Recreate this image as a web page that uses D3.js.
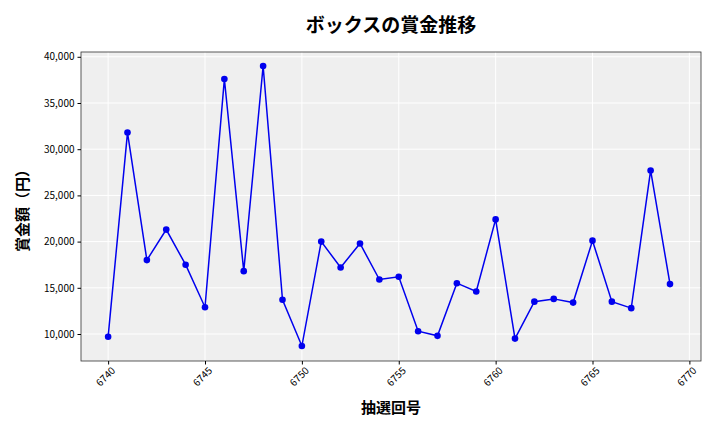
<!DOCTYPE html>
<html><head><meta charset="utf-8">
<script src="https://cdn.jsdelivr.net/npm/d3@7"></script>
<style>body{margin:0;background:#fff}text{font-family:"Noto Sans CJK JP","DejaVu Sans",sans-serif}</style>
</head><body><div class="chart"></div>
<script>
var draws = d3.range(6740, 6770);
var prizes = [9700,31800,18000,21300,17500,12900,37600,16800,39000,13700,
  8700,20000,17200,19800,15900,16200,10300,9800,15500,14600,
  22400,9500,13500,13800,13400,20100,13500,12800,27700,15400];
var xTicks = [6740,6745,6750,6755,6760,6765,6770];
var yTicks = [10000,15000,20000,25000,30000,35000,40000];

var margin = {top: 52, right: 19, bottom: 71, left: 81},
  width = 720 - margin.left - margin.right,
  height = 432 - margin.top - margin.bottom;

var svg = d3.select(".chart").append("svg")
  .attr("width", 720).attr("height", 432);
var g = svg.append("g").attr("transform", "translate(" + margin.left + "," + margin.top + ")");

var xScale = d3.scaleLinear().domain([6738.6, 6770.6]).range([0, width]);
var yScale = d3.scaleLinear().domain([7078, 40519]).range([height, 0]);

g.append("rect").attr("width", width).attr("height", height).attr("fill", "#efefef");

// grid
g.selectAll(".gx").data(xTicks).enter().append("line")
  .attr("x1", d => xScale(d)).attr("x2", d => xScale(d)).attr("y1", 0).attr("y2", height)
  .attr("stroke", "#fff").attr("stroke-width", 1);
g.selectAll(".gy").data(yTicks).enter().append("line")
  .attr("y1", d => yScale(d)).attr("y2", d => yScale(d)).attr("x1", 0).attr("x2", width)
  .attr("stroke", "#fff").attr("stroke-width", 1);

g.append("rect").attr("width", width).attr("height", height).attr("fill", "none").attr("stroke", "#333").attr("stroke-width", 0.8);

var xAxis = g.append("g").attr("transform", "translate(0," + height + ")")
  .call(d3.axisBottom(xScale).tickValues(xTicks).tickFormat(d3.format("d")).tickSize(3.5));
xAxis.selectAll("text").attr("transform", "rotate(-45)").style("text-anchor", "end")
  .attr("dx", "-0.2em").attr("dy", "0.6em").attr("font-size", 10);
var yAxis = g.append("g")
  .call(d3.axisLeft(yScale).tickValues(yTicks).tickFormat(d3.format(",")).tickSize(3.5));
yAxis.selectAll("text").attr("font-size", 10);
g.selectAll(".domain").remove();

var line = d3.line().x((d, i) => xScale(draws[i])).y(d => yScale(d));
g.append("path").datum(prizes).attr("d", line).attr("fill", "none").attr("stroke", "#0000ee").attr("stroke-width", 1.5);
g.selectAll(".dot").data(prizes).enter().append("circle")
  .attr("cx", (d, i) => xScale(draws[i])).attr("cy", d => yScale(d)).attr("r", 3.3).attr("fill", "#0000ee");

svg.append("text").attr("x", 391).attr("y", 32).attr("text-anchor", "middle")
  .attr("font-size", 19).attr("font-weight", "bold").text("ボックスの賞金推移");
svg.append("text").attr("x", 391).attr("y", 413).attr("text-anchor", "middle")
  .attr("font-size", 15).attr("font-weight", "bold").text("抽選回号");
svg.append("text").attr("transform", "translate(28,207) rotate(-90)").attr("text-anchor", "middle")
  .attr("font-size", 15).attr("font-weight", "bold").text("賞金額（円）");
</script></body></html>
